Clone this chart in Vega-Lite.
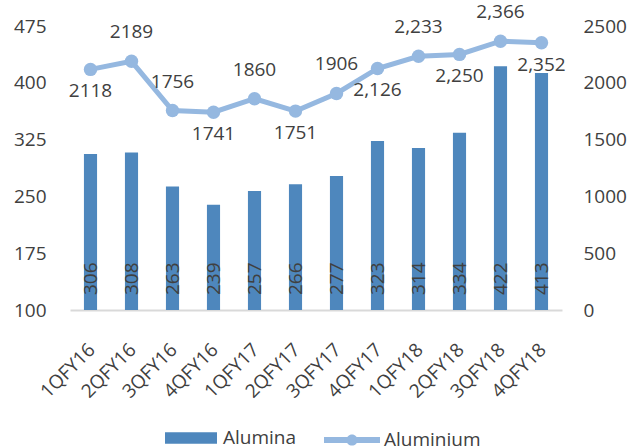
{
  "$schema": "https://vega.github.io/schema/vega-lite/v6.json",
  "width": 492,
  "height": 284,
  "autosize": {"type": "none"},
  "padding": {"left": 70, "top": 26, "right": 69, "bottom": 137},
  "background": "white",
  "config": {
    "view": {"stroke": null},
    "font": "Open Sans",
    "axis": {
      "labelFont": "Open Sans",
      "labelFontSize": 19,
      "labelColor": "#404040",
      "ticks": false,
      "grid": false,
      "domain": false,
      "title": null
    },
    "legend": {
      "labelFont": "Open Sans",
      "labelFontSize": 19,
      "labelColor": "#404040",
      "title": null
    },
    "text": {"font": "Open Sans", "fontSize": 19, "color": "#404040"}
  },
  "data": {
    "values": [
      {"quarter": "1QFY16", "Alumina": 306, "Aluminium": 2118},
      {"quarter": "2QFY16", "Alumina": 308, "Aluminium": 2189},
      {"quarter": "3QFY16", "Alumina": 263, "Aluminium": 1756},
      {"quarter": "4QFY16", "Alumina": 239, "Aluminium": 1741},
      {"quarter": "1QFY17", "Alumina": 257, "Aluminium": 1860},
      {"quarter": "2QFY17", "Alumina": 266, "Aluminium": 1751},
      {"quarter": "3QFY17", "Alumina": 277, "Aluminium": 1906},
      {"quarter": "4QFY17", "Alumina": 323, "Aluminium": 2126},
      {"quarter": "1QFY18", "Alumina": 314, "Aluminium": 2233},
      {"quarter": "2QFY18", "Alumina": 334, "Aluminium": 2250},
      {"quarter": "3QFY18", "Alumina": 422, "Aluminium": 2366},
      {"quarter": "4QFY18", "Alumina": 413, "Aluminium": 2352}
    ]
  },
  "encoding": {
    "x": {
      "field": "quarter",
      "type": "nominal",
      "sort": null,
      "scale": {"paddingInner": 0.68, "paddingOuter": 0.34},
      "axis": {
        "domain": true,
        "domainColor": "#D9D9D9",
        "domainWidth": 2,
        "labelAngle": -45,
        "labelPadding": 30,
        "labelOffset": -5
      }
    }
  },
  "layer": [
    {
      "encoding": {
        "y": {
          "field": "Alumina",
          "type": "quantitative",
          "scale": {"domain": [100, 475], "zero": false, "nice": false},
          "axis": {"orient": "left", "values": [100, 175, 250, 325, 400, 475], "labelPadding": 24}
        }
      },
      "layer": [
        {
          "mark": {"type": "bar", "color": "#4E87BD"},
          "encoding": {
            "y2": {"datum": 100},
            "fill": {
              "datum": "Alumina",
              "scale": {"range": ["#4E87BD"]},
              "legend": {
                "orient": "none",
                "legendX": 95,
                "legendY": 386,
                "symbolType": "M-1,-0.22H1V0.22H-1Z",
                "symbolSize": 2704,
                "symbolStrokeWidth": 0,
                "labelOffset": 6
              }
            }
          }
        },
        {
          "mark": {"type": "text", "angle": 270, "align": "left", "baseline": "middle", "dx": 15},
          "encoding": {
            "y": {"datum": 100, "type": "quantitative"},
            "text": {"field": "Alumina", "type": "quantitative", "format": "d"}
          }
        }
      ]
    },
    {
      "encoding": {
        "y": {
          "field": "Aluminium",
          "type": "quantitative",
          "scale": {"domain": [0, 2500], "nice": false},
          "axis": {"orient": "right", "values": [0, 500, 1000, 1500, 2000, 2500], "format": "d", "labelPadding": 21}
        }
      },
      "layer": [
        {
          "mark": {"type": "line", "color": "#95B8E0", "strokeWidth": 5},
          "encoding": {}
        },
        {
          "mark": {"type": "point", "filled": true, "size": 180, "opacity": 1},
          "encoding": {
            "color": {
              "datum": "Aluminium",
              "scale": {"range": ["#95B8E0"]},
              "legend": {
                "orient": "none",
                "legendX": 254,
                "legendY": 386,
                "symbolType": "M-1,-0.11H1V0.11H-1Z M-0.2,0A0.2,0.2 0 1 1 0.2,0A0.2,0.2 0 1 1 -0.2,0Z",
                "symbolSize": 3136,
                "symbolStrokeWidth": 0,
                "labelOffset": 4
              }
            }
          }
        },
        {
          "transform": [{"filter": {"field": "quarter", "oneOf": ["2QFY16", "3QFY16", "1QFY17", "3QFY17", "1QFY18", "3QFY18"]}}],
          "mark": {"type": "text", "baseline": "middle", "dy": -29},
          "encoding": {
            "text": {
              "condition": {"test": "indexof(['4QFY17','1QFY18','2QFY18','3QFY18','4QFY18'], datum.quarter) >= 0", "field": "Aluminium", "type": "quantitative", "format": ","},
              "field": "Aluminium",
              "type": "quantitative",
              "format": "d"
            }
          }
        },
        {
          "transform": [{"filter": {"field": "quarter", "oneOf": ["1QFY16", "4QFY16", "2QFY17", "4QFY17", "2QFY18", "4QFY18"]}}],
          "mark": {"type": "text", "baseline": "middle", "dy": 22},
          "encoding": {
            "text": {
              "condition": {"test": "indexof(['4QFY17','1QFY18','2QFY18','3QFY18','4QFY18'], datum.quarter) >= 0", "field": "Aluminium", "type": "quantitative", "format": ","},
              "field": "Aluminium",
              "type": "quantitative",
              "format": "d"
            }
          }
        }
      ]
    }
  ],
  "resolve": {"scale": {"y": "independent"}}
}
